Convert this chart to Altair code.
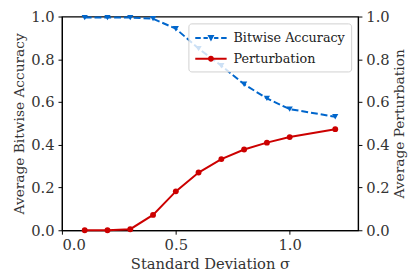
import altair as alt
import pandas as pd

sigma = [0.1, 0.2, 0.3, 0.4, 0.5, 0.6, 0.7, 0.8, 0.9, 1.0, 1.2]
accuracy = [0.995, 0.995, 0.995, 0.99, 0.943, 0.85, 0.77, 0.683, 0.617, 0.567, 0.531]
perturbation = [0.0, 0.0, 0.005, 0.072, 0.182, 0.27, 0.333, 0.378, 0.41, 0.436, 0.473]
series_names = ["Bitwise Accuracy", "Perturbation"]
x_ticks = [0.0, 0.5, 1.0]
y_ticks = [0.0, 0.2, 0.4, 0.6, 0.8, 1.0]

BLUE = "#0066cc"
RED = "#cc0000"
FONT = "DejaVu Serif"

df = pd.DataFrame({"sigma": sigma, "accuracy": accuracy, "perturbation": perturbation})
legend_df = pd.DataFrame({"series": series_names, "sigma": [0.0, 0.0], "val": [0.0, 0.0]})

# legend symbols: line sample + marker, as filled custom paths (1 unit = 8 px)
acc_path = ("M-2,-0.125L-1.3,-0.125L-1.3,0.125L-2,0.125Z "
            "M-0.95,-0.125L-0.4,-0.125L-0.4,0.125L-0.95,0.125Z "
            "M-0.45,-0.38L0.45,-0.38L0,0.42Z "
            "M0.4,-0.125L0.95,-0.125L0.95,0.125L0.4,0.125Z "
            "M1.3,-0.125L2,-0.125L2,0.125L1.3,0.125Z")
per_path = ("M-2,-0.125L-0.3,-0.125L-0.3,0.125L-2,0.125Z "
            "M0.3,-0.125L2,-0.125L2,0.125L0.3,0.125Z "
            "M-0.38,0A0.38,0.38 0 1,1 0.38,0A0.38,0.38 0 1,1 -0.38,0Z")

xenc = alt.X("sigma:Q", scale=alt.Scale(domain=[0, 1.3], nice=False, zero=False),
             axis=alt.Axis(values=x_ticks, format=".1f", title="Standard Deviation σ",
                           titleFontSize=15))

base = alt.Chart(df)

acc_line = base.mark_line(color=BLUE, strokeWidth=2, strokeDash=[7, 3]).encode(
    x=xenc,
    y=alt.Y("accuracy:Q", scale=alt.Scale(domain=[0, 1], nice=False),
            axis=alt.Axis(values=y_ticks, format=".1f", title="Average Bitwise Accuracy",
                          orient="left")))
acc_pts = base.mark_point(shape="triangle-down", filled=True, color=BLUE, size=40, opacity=1).encode(
    x=xenc, y=alt.Y("accuracy:Q"))

legend_layer = alt.Chart(legend_df).mark_point(filled=True, opacity=1).encode(
    x=alt.X("sigma:Q"),
    y=alt.Y("val:Q"),
    color=alt.Color("series:N", scale=alt.Scale(domain=series_names, range=[BLUE, RED]),
                    legend=alt.Legend(title=None, orient="top-right", offset=7,
                                      symbolSize=256, symbolOpacity=1, symbolOffset=8,
                                      fillColor="rgba(255,255,255,0.8)", strokeColor="#d0d0d0",
                                      cornerRadius=3, padding=6, rowPadding=5,
                                      labelFont=FONT, labelFontSize=13, labelColor="#222",
                                      labelOffset=14)),
    shape=alt.Shape("series:N", scale=alt.Scale(domain=series_names, range=[acc_path, per_path]),
                    legend=alt.Legend(title=None, orient="top-right")),
).transform_filter("datum.val > 5")

left = alt.layer(acc_line, acc_pts, legend_layer)

per_line = base.mark_line(color=RED, strokeWidth=2).encode(
    x=xenc,
    y=alt.Y("perturbation:Q", scale=alt.Scale(domain=[0, 1], nice=False),
            axis=alt.Axis(values=y_ticks, format=".1f", title="Average Perturbation",
                          orient="right", titleAngle=270, titleBaseline="top")))
per_pts = base.mark_circle(color=RED, size=36, opacity=1).encode(
    x=xenc, y=alt.Y("perturbation:Q"))

right = alt.layer(per_line, per_pts)

chart = alt.layer(right, left).resolve_scale(y="independent").properties(
    width=302, height=218,
    autosize=alt.AutoSizeParams(type="none"),
    padding={"left": 55, "top": 6, "right": 52, "bottom": 47},
).configure(font=FONT).configure_view(stroke="black", strokeWidth=1.2).configure_axis(
    grid=False, domainColor="black", domainWidth=1.2, tickColor="black", tickSize=4,
    tickWidth=1, labelFont=FONT, labelFontSize=15, labelColor="#333",
    titleFont=FONT, titleFontSize=14, titleColor="#333", titleFontWeight="normal",
    labelPadding=4, titlePadding=4,
).configure_legend(labelFont=FONT)

chart.save("out.html", embed_options={"renderer": "svg", "actions": False})
